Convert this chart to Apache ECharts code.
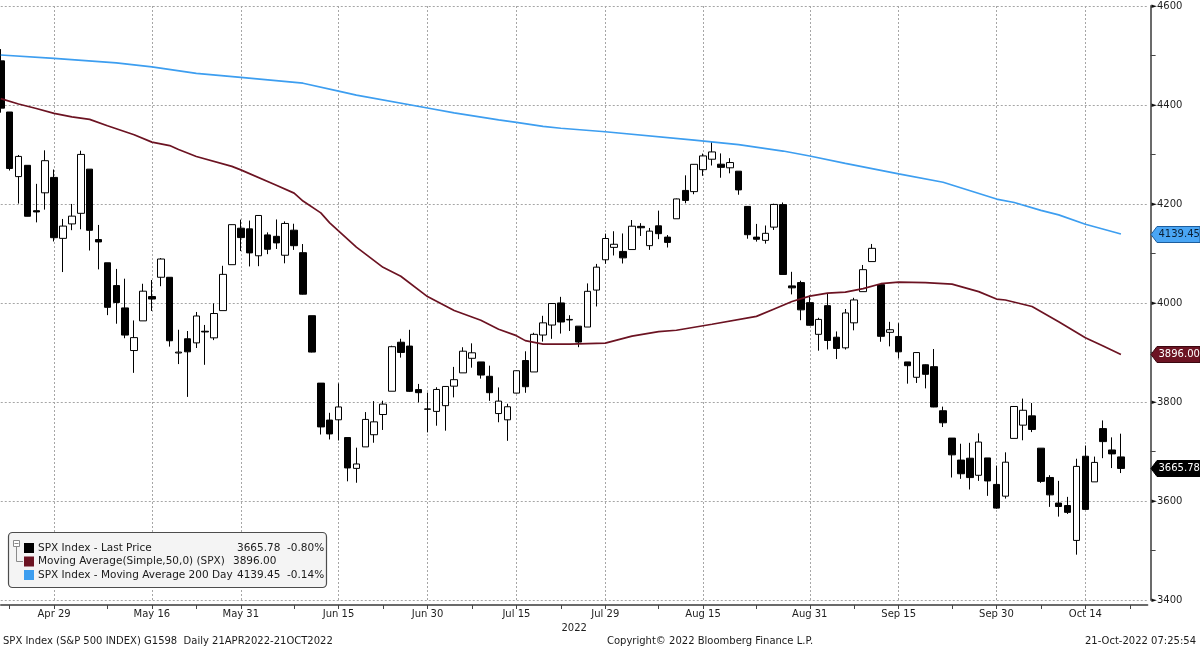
<!DOCTYPE html>
<html><head><meta charset="utf-8">
<script src="https://cdn.jsdelivr.net/npm/echarts@6/dist/echarts.min.js"></script>
<style>html,body{margin:0;padding:0;background:#fff}#c{width:1200px;height:650px}</style>
</head><body><div id="c"></div>
<script>
const dates = ['Apr 21','Apr 22','Apr 25','Apr 26','Apr 27','Apr 28','Apr 29',
'May 2','May 3','May 4','May 5','May 6','May 9','May 10','May 11','May 12','May 13','May 16','May 17','May 18','May 19','May 20','May 23','May 24','May 25','May 26','May 27','May 31',
'Jun 1','Jun 2','Jun 3','Jun 6','Jun 7','Jun 8','Jun 9','Jun 10','Jun 13','Jun 14','Jun 15','Jun 16','Jun 17','Jun 21','Jun 22','Jun 23','Jun 24','Jun 27','Jun 28','Jun 29','Jun 30',
'Jul 1','Jul 5','Jul 6','Jul 7','Jul 8','Jul 11','Jul 12','Jul 13','Jul 14','Jul 15','Jul 18','Jul 19','Jul 20','Jul 21','Jul 22','Jul 25','Jul 26','Jul 27','Jul 28','Jul 29',
'Aug 1','Aug 2','Aug 3','Aug 4','Aug 5','Aug 8','Aug 9','Aug 10','Aug 11','Aug 12','Aug 15','Aug 16','Aug 17','Aug 18','Aug 19','Aug 22','Aug 23','Aug 24','Aug 25','Aug 26','Aug 29','Aug 30','Aug 31',
'Sep 1','Sep 2','Sep 6','Sep 7','Sep 8','Sep 9','Sep 12','Sep 13','Sep 14','Sep 15','Sep 16','Sep 19','Sep 20','Sep 21','Sep 22','Sep 23','Sep 26','Sep 27','Sep 28','Sep 29','Sep 30',
'Oct 3','Oct 4','Oct 5','Oct 6','Oct 7','Oct 10','Oct 11','Oct 12','Oct 13','Oct 14','Oct 17','Oct 18','Oct 19','Oct 20'];

const open = [4489.17,4385.83,4255.34,4278.14,4186.52,4222.58,4253.75,
4130.61,4159.78,4181.18,4270.43,4128.17,4081.27,4035.18,3990.08,3903.95,3963.90,4013.02,4052.00,4051.98,3899.00,3927.76,3919.42,3942.94,3929.59,3984.60,4077.43,4151.09,
4149.78,4095.41,4137.57,4134.72,4096.47,4147.12,4101.65,3974.39,3838.15,3763.52,3764.05,3728.18,3665.90,3709.33,3733.89,3774.71,3821.75,3920.76,3913.00,3825.09,3785.99,
3781.00,3792.61,3831.98,3858.85,3888.26,3880.94,3851.95,3776.67,3763.99,3818.00,3883.79,3860.73,3935.32,3955.47,4000.15,3965.72,3953.22,3951.43,4026.13,4087.33,
4112.38,4104.21,4107.96,4154.85,4115.87,4155.93,4133.11,4170.14,4227.40,4225.02,4269.37,4290.46,4280.40,4273.13,4266.31,4195.08,4133.09,4126.55,4153.26,4198.74,4034.58,4041.25,4000.67,
3936.73,3994.66,3930.89,3909.43,3959.94,4022.94,4083.67,4037.12,3940.73,3932.41,3880.95,3849.91,3875.23,3871.40,3782.36,3727.14,3682.72,3686.44,3651.94,3687.01,3633.48,
3609.78,3726.46,3753.25,3771.97,3706.74,3647.51,3595.86,3590.83,3520.37,3690.41,3638.65,3746.26,3703.11,3689.05];

const high = [4512.94,4385.83,4299.02,4278.14,4240.71,4308.45,4269.68,
4169.81,4200.10,4307.66,4270.43,4157.69,4081.27,4068.82,4049.09,3964.80,4038.88,4046.46,4090.72,4051.98,3945.96,3943.42,3981.88,3955.68,3999.33,4075.14,4158.49,4168.34,
4166.54,4177.51,4142.67,4168.78,4164.86,4160.14,4119.10,3974.39,3838.15,3778.18,3837.56,3728.18,3707.71,3779.65,3801.79,3802.58,3913.65,3927.72,3945.86,3836.50,3818.99,
3829.82,3832.19,3870.91,3910.63,3918.50,3880.94,3873.41,3829.44,3796.41,3863.62,3902.44,3939.81,3974.13,3999.29,4012.44,3975.30,3953.22,4039.56,4078.95,4140.15,
4144.95,4140.47,4167.66,4161.29,4151.58,4186.62,4137.30,4211.03,4257.91,4280.47,4301.79,4325.28,4302.18,4292.53,4266.31,4195.08,4159.77,4156.56,4200.54,4203.04,4062.99,4044.98,4015.37,
3970.23,4018.43,3942.55,3987.89,4010.50,4076.81,4119.28,4037.12,3961.94,3959.14,3880.95,3900.45,3876.01,3907.07,3790.68,3727.14,3715.67,3717.53,3736.74,3687.01,3671.44,
3698.35,3791.92,3806.91,3797.93,3706.74,3652.17,3640.66,3608.34,3685.41,3712.00,3689.73,3762.79,3728.58,3736.00];

const low = [4384.47,4267.62,4200.82,4175.04,4162.90,4188.63,4124.28,
4062.51,4147.08,4148.91,4106.01,4067.91,3975.48,3958.17,3928.82,3858.87,3963.90,3983.99,4033.93,3911.91,3876.58,3810.32,3909.04,3875.13,3925.03,3984.60,4077.43,4104.88,
4073.85,4074.37,4098.67,4109.18,4080.19,4107.20,4017.17,3900.16,3734.30,3724.27,3722.30,3639.77,3636.87,3709.33,3717.69,3743.52,3821.75,3889.66,3820.14,3799.02,3738.67,
3752.10,3742.06,3809.37,3858.85,3869.34,3847.22,3802.36,3759.07,3721.56,3817.18,3818.63,3860.73,3922.03,3927.64,3938.24,3943.46,3910.74,3951.43,3992.97,4079.22,
4096.02,4079.81,4107.96,4135.42,4107.31,4128.97,4112.09,4170.14,4201.41,4219.78,4256.90,4277.77,4253.08,4261.98,4218.70,4129.86,4124.03,4119.97,4147.59,4057.66,4017.42,3965.21,3954.53,
3903.65,3906.21,3886.75,3906.03,3944.81,4022.94,4083.67,3921.73,3912.42,3888.28,3837.08,3838.50,3827.54,3789.49,3749.45,3647.47,3644.76,3623.29,3640.61,3610.40,3584.13,
3604.93,3726.46,3722.66,3739.22,3636.62,3588.10,3568.45,3573.86,3491.58,3583.07,3638.65,3686.53,3666.51,3656.44];

const close = [4393.66,4271.78,4296.12,4175.20,4183.96,4287.50,4131.93,
4155.38,4175.48,4300.17,4146.87,4123.34,3991.24,4001.05,3935.18,3930.08,4023.89,4008.01,4088.85,3923.68,3900.79,3901.36,3973.75,3941.48,3978.73,4057.84,4158.24,4132.15,
4101.23,4176.82,4108.54,4121.43,4160.68,4115.77,4017.82,3900.86,3749.63,3735.48,3789.99,3666.77,3674.84,3764.79,3759.89,3795.73,3911.74,3900.11,3821.55,3818.83,3785.38,
3825.33,3831.39,3845.08,3902.62,3899.38,3854.43,3818.80,3801.78,3790.38,3863.16,3830.85,3936.69,3959.90,3998.95,3961.63,3966.84,3921.05,4023.61,4072.43,4130.29,
4118.63,4091.19,4155.17,4151.94,4145.19,4140.06,4122.47,4210.24,4207.27,4280.15,4297.14,4305.20,4274.04,4283.74,4228.48,4137.99,4128.73,4140.77,4199.12,4057.66,4030.61,3986.16,3955.00,
3966.85,3924.26,3908.19,3979.87,4006.18,4067.36,4110.41,3932.69,3946.01,3901.35,3873.33,3899.89,3855.93,3789.93,3757.99,3693.23,3655.04,3647.29,3719.04,3640.47,3585.62,
3678.43,3790.93,3783.28,3744.52,3639.66,3612.39,3588.84,3577.03,3669.91,3583.07,3677.95,3719.98,3695.16,3665.78];

// moving averages at these dates
const ma50 = [['Apr 21',4413],['Apr 25',4402],['Apr 27',4393],['Apr 29',4383],['May 3',4376],['May 5',4371],['May 9',4358],['May 12',4340],['May 16',4325],['May 18',4318],['May 19',4310],['May 23',4296],['May 27',4276],['May 31',4269],['Jun 6',4238],['Jun 8',4222],['Jun 9',4206],['Jun 13',4182],['Jun 14',4162],['Jun 17',4113],['Jun 23',4072],['Jun 27',4054],['Jun 30',4013],['Jul 6',3985],['Jul 11',3965],['Jul 13',3947],['Jul 15',3934],['Jul 18',3924],['Jul 20',3917],['Jul 25',3917],['Jul 29',3919],['Aug 3',3933],['Aug 8',3942],['Aug 10',3945],['Aug 16',3957],['Aug 23',3973],['Aug 25',3988],['Aug 29',4003],['Aug 31',4014],['Sep 2',4020],['Sep 7',4022],['Sep 9',4029],['Sep 13',4039],['Sep 15',4042],['Sep 20',4041],['Sep 23',4038],['Sep 28',4023],['Sep 30',4008],['Oct 3',4006],['Oct 6',3993],['Oct 11',3962],['Oct 14',3930],['Oct 18',3913],['Oct 20',3896.00]];

const ma200 = [['Apr 21',4501],['Apr 29',4494],['May 10',4485],['May 16',4477],['May 23',4464],['May 31',4456],['Jun 9',4444],['Jun 15',4428],['Jun 17',4420],['Jun 30',4394],['Jul 6',4384],['Jul 13',4370],['Jul 15',4365],['Jul 20',4357],['Jul 22',4353],['Jul 29',4346],['Aug 12',4329],['Aug 19',4320],['Aug 26',4307],['Aug 31',4297],['Sep 7',4282],['Sep 15',4261],['Sep 22',4244],['Sep 30',4210],['Oct 4',4203],['Oct 7',4187],['Oct 11',4178],['Oct 14',4159],['Oct 20',4139.45]];

const tickLabels = ['Apr 29','May 16','May 31','Jun 15','Jun 30','Jul 15','Jul 29','Aug 15','Aug 31','Sep 15','Sep 30','Oct 14'];
const midTickIdx = [1,12,22,33,43,53,63,74,85,96,107,117,127];
const legendNames = ['SPX Index - Last Price','Moving Average(Simple,50,0) (SPX)','SPX Index - Moving Average 200 Day'];
const legendChange = ['-0.80%','','-0.14%'];
const footer = ['SPX Index (S&P 500 INDEX) G1598  Daily 21APR2022-21OCT2022','Copyright\u00a9 2022 Bloomberg Finance L.P.','21-Oct-2022 07:25:54'];
const yearLabel = '2022';

const FONT = 'DejaVu Sans';
const C_BLUE = '#3d9ef0', C_RED = '#6c1322';

const cats = dates.concat([' ', '  ', '   ']);
const candles = dates.map((d, i) => [open[i], close[i], low[i], high[i]]);
const isLabel = (i, v) => tickLabels.indexOf(v) >= 0;

const chart = echarts.init(document.getElementById('c'), null, {renderer: 'canvas'});
chart.setOption({
  animation: false,
  backgroundColor: '#fff',
  grid: {left: 0.75, right: 52.4, top: 6, bottom: 50, containLabel: false},
  xAxis: {
    type: 'category', data: cats, boundaryGap: false, offset: 5,
    axisLine: {show: true, lineStyle: {color: '#3a3a3a', width: 1.5}},
    axisTick: {show: true, length: 4, interval: (i, v) => isLabel(i, v) || midTickIdx.indexOf(i) >= 0, lineStyle: {color: '#444'}},
    axisLabel: {interval: isLabel, margin: 4, fontFamily: FONT, fontSize: 10, color: '#1e1e1e'},
    splitLine: {show: true, interval: isLabel, lineStyle: {color: '#a6a6a6', type: [2, 2], width: 1}},
    name: yearLabel, nameLocation: 'middle', nameGap: 17,
    nameTextStyle: {fontFamily: FONT, fontSize: 10, color: '#1e1e1e'}
  },
  yAxis: {
    type: 'value', position: 'right', min: 3400, max: 4600, interval: 200, offset: 3,
    axisLine: {show: true, lineStyle: {color: '#6b6b6b', width: 2}},
    axisTick: {show: true, length: 0.01, lineStyle: {color: '#6b6b6b'}},
    minorTick: {show: true, splitNumber: 2, length: 5, lineStyle: {color: '#444', width: 1}},
    splitLine: {show: true, lineStyle: {color: '#a6a6a6', type: [2, 2], width: 1}},
    axisLabel: {
      margin: 1,
      formatter: v => '{t|\u25BA}{v|' + v + '}',
      rich: {t: {fontSize: 7, color: '#111', fontFamily: FONT}, v: {fontSize: 10, color: '#1e1e1e', fontFamily: FONT}}
    }
  },
  series: [
    {type: 'line', data: ma200, showSymbol: false, connectNulls: true, lineStyle: {color: C_BLUE, width: 1.7}, itemStyle: {color: C_BLUE}},
    {type: 'line', data: ma50, showSymbol: false, connectNulls: true, lineStyle: {color: C_RED, width: 1.7}, itemStyle: {color: C_RED}},
    {type: 'candlestick', data: candles, barWidth: 7, clip: true,
      itemStyle: {color: '#ffffff', color0: '#000000', borderColor: '#000000', borderColor0: '#000000', borderWidth: 1}}
  ]
});

const lastPrice = close[close.length - 1];
const last50 = ma50[ma50.length - 1][1];
const last200 = ma200[ma200.length - 1][1];
const txt = (x, y, s, opt) => Object.assign({type: 'text', x: x, y: y, z: 100,
  style: Object.assign({text: s, fill: '#1a1a1a', font: '10px "' + FONT + '"', align: 'left', verticalAlign: 'middle'}, opt || {})});

function tag(v, fill, stroke, tc) {
  const y = Math.round(chart.convertToPixel({yAxisIndex: 0}, v)) + 0.5;
  return [
    {type: 'polygon', z: 100, shape: {points: [[1151, y], [1157, y - 8], [1200, y - 8], [1200, y + 8], [1157, y + 8]]}, style: {fill: fill, stroke: stroke, lineWidth: 1}},
    txt(1158.5, y, v.toFixed(2), {fill: tc})
  ];
}

const g = [];
g.push(...tag(last200, '#4aa6f5', '#1d5e9e', '#0b2036'));
g.push(...tag(last50, C_RED, '#3a0810', '#ffffff'));
g.push(...tag(lastPrice, '#000000', '#000000', '#ffffff'));

// legend box
g.push({type: 'rect', z: 90, shape: {x: 8.5, y: 532.5, width: 318, height: 55, r: 4}, style: {fill: '#f4f4f4', stroke: '#4d4d4d', lineWidth: 1.2}});
g.push({type: 'rect', z: 95, shape: {x: 13.5, y: 540.5, width: 6, height: 6}, style: {fill: '#fff', stroke: '#8a8a8a', lineWidth: 1}});
g.push({type: 'line', z: 96, shape: {x1: 14.5, y1: 543.5, x2: 18.5, y2: 543.5}, style: {stroke: '#8a8a8a', lineWidth: 1}});
g.push({type: 'polyline', z: 95, shape: {points: [[16.5, 546.5], [16.5, 561.5], [23, 561.5]]}, style: {stroke: '#8a8a8a', lineWidth: 1, fill: null}});
const rowY = [548, 561.5, 575];
const sw = ['#000000', C_RED, C_BLUE];
const vals = [lastPrice.toFixed(2), last50.toFixed(2), last200.toFixed(2)];
const valX = [237, 233, 237];
for (let i = 0; i < 3; i++) {
  g.push({type: 'rect', z: 95, shape: {x: 24, y: rowY[i] - 5, width: 10, height: 10}, style: {fill: sw[i]}});
  g.push(txt(38, rowY[i], legendNames[i], {font: '10.5px "' + FONT + '"'}));
  g.push(txt(valX[i], rowY[i], vals[i], {font: '10.5px "' + FONT + '"'}));
  if (legendChange[i]) g.push(txt(287, rowY[i], legendChange[i], {font: '10.5px "' + FONT + '"'}));
}
// footer
g.push(txt(3, 641, footer[0]));
g.push(txt(607, 641, footer[1]));
g.push(txt(1196, 641, footer[2], {align: 'right'}));

chart.setOption({graphic: g});
</script>
</body></html>
